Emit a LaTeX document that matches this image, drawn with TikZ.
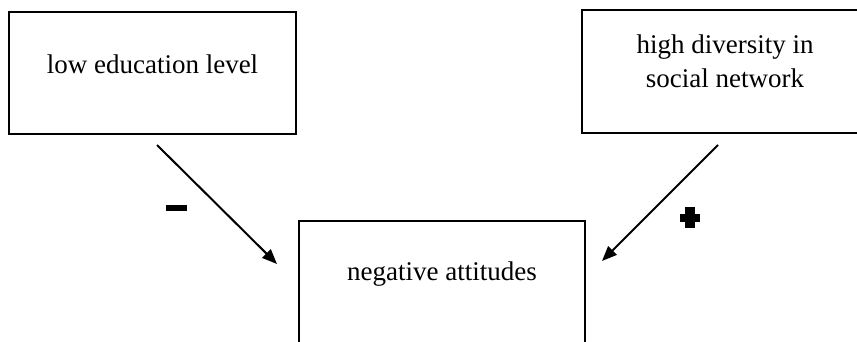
\documentclass[tikz,border=0pt]{standalone}
\usepackage{fontspec}
\setmainfont{Liberation Serif}
\usetikzlibrary{arrows.meta}

\tikzset{
  box/.style={draw, line width=2.4pt, inner sep=0pt, fill=none},
  label/.style={anchor=base, inner sep=0pt, font=\fontsize{27}{34}\selectfont},
  link/.style={line width=2pt, -{Triangle[length=15pt,width=12pt]}},
  sign/.style={fill=black, draw=none, inner sep=0pt}
}

\begin{document}
\begin{tikzpicture}[x=1pt, y=-1pt]
  \useasboundingbox (0,0) rectangle (857,341);
  \clip (0,0) rectangle (857,341);

  % boxes
  \node[box, minimum width=287pt, minimum height=122pt] (edu) at (152.5,73) {};
  \node[box, minimum width=286pt, minimum height=123pt] (div) at (725,71.5) {};
  \node[box, minimum width=286pt, minimum height=150pt] (att) at (442,296) {};

  % box texts
  \node[label] (edutxt) at (152.5,73) {low education level};
  \node[label] (divtxt1) at (725,53) {high diversity in};
  \node[label] (divtxt2) at (725,87) {social network};
  \node[label] (atttxt) at (442,280) {negative attitudes};

  % arrow end points
  \coordinate (eduout) at (157,145);
  \coordinate (attleft) at (277,264);
  \coordinate (divout) at (718,145);
  \coordinate (attright) at (602,261);

  \draw[link] (eduout) -- (attleft);
  \draw[link] (divout) -- (attright);

  % signs
  \node[sign, minimum width=21pt, minimum height=6pt] (minus) at (176.5,208) {};
  \node[sign, minimum width=20pt, minimum height=8pt] (plush) at (690,218) {};
  \node[sign, minimum width=10pt, minimum height=21pt] (plusv) at (690,217.5) {};
\end{tikzpicture}
\end{document}
